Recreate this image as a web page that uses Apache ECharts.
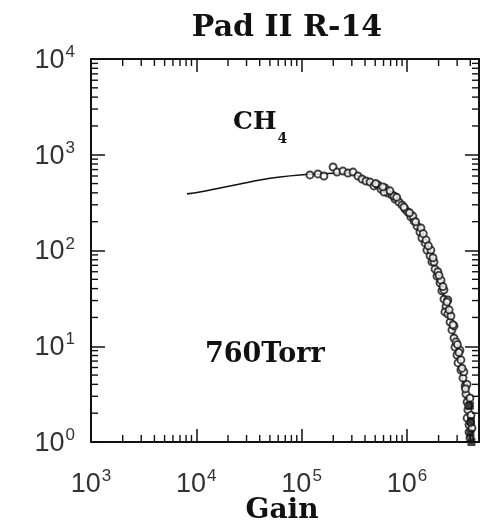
<!DOCTYPE html>
<html>
<head>
<meta charset="utf-8">
<script src="https://cdn.jsdelivr.net/npm/echarts@6/dist/echarts.min.js"></script>
<style>
  html, body { margin: 0; padding: 0; background: #fff; }
  #chart { width: 482px; height: 527px; }
</style>
</head>
<body>
<div id="chart"></div>
<script>
// Axis ranges (gain on x, value on y; both logarithmic)
const xMin = 1000, xMax = 4.84e6;
const yMin = 1, yMax = 1e4;

// Measured points: gain
const pointGain = [
  1.20e5, 1.43e5, 1.63e5, 1.99e5, 2.17e5, 2.47e5, 2.76e5, 3.08e5, 3.43e5, 3.75e5,
  4.09e5, 4.47e5, 4.87e5, 5.32e5, 5.68e5, 6.20e5, 6.61e5, 7.21e5, 7.71e5, 8.41e5,
  8.98e5, 9.59e5, 1.02e6, 1.09e6, 1.17e6, 1.25e6, 1.33e6, 1.39e6, 1.49e6, 1.55e6,
  1.66e6, 1.73e6, 1.85e6, 1.93e6, 2.06e6, 2.15e6, 2.25e6, 2.35e6, 2.30e6, 2.45e6,
  2.57e6, 2.68e6, 2.80e6, 2.86e6, 2.99e6, 3.06e6, 3.26e6, 3.41e6, 3.57e6, 3.64e6,
  3.73e6, 3.80e6, 3.73e6, 3.89e6, 3.89e6, 3.97e6,
  6.07e5, 7.54e5, 9.37e5, 1.14e6, 1.36e6, 1.52e6, 1.69e6, 1.81e6, 1.97e6, 2.11e6,
  2.25e6, 2.45e6, 2.62e6, 2.80e6, 2.93e6, 3.19e6, 3.26e6, 3.48e6, 3.73e6, 3.97e6,
  4.06e6, 4.15e6,
  5.05e5, 5.90e5, 6.90e5, 8.00e5, 1.06e6, 1.21e6, 1.43e6, 1.60e6, 1.77e6, 2.02e6,
  2.20e6, 2.40e6, 2.52e6, 2.74e6, 3.02e6, 3.12e6, 3.34e6, 3.60e6, 3.85e6, 4.02e6
];
// Measured points: value
const pointValue = [
  615, 630, 600, 745, 660, 676, 645, 660, 600, 558,
  532, 519, 472, 483, 439, 450, 398, 380, 345, 321,
  299, 271, 252, 224, 203, 180, 156, 135, 120, 101,
  88, 76, 64, 54, 46, 38, 31, 26, 22.8, 21.7,
  17.9, 14.8, 12.2, 9.8, 8.1, 6.7, 5.65, 4.66, 3.85, 3.17,
  2.62, 2.16, 1.78, 1.51, 1.27, 1.10,
  408, 371, 285, 229, 172, 129, 101, 76, 60, 49,
  38.7, 30.4, 20.7, 16.3, 11.1, 9.1, 7.2, 5.4, 4.0, 2.88,
  1.91, 1.40,
  500, 462, 420, 360, 248, 200, 150, 112, 84, 55,
  42, 29, 24, 16.8, 10.4, 8.6, 5.9, 3.6, 2.4, 1.6
];

// Solid-marker points near the lowest values
const solidGain = [3.97e6, 4.06e6, 4.02e6, 4.10e6];
const solidValue = [2.4, 1.65, 1.22, 1.0];

// Fitted curve
const curveGain = [
  8.17e3, 1.08e4, 1.68e4, 2.60e4, 4.03e4, 6.24e4, 9.66e4, 1.50e5, 2.32e5, 3.21e5,
  4.47e5, 6.20e5, 8.50e5, 1.12e6, 1.45e6, 1.81e6, 2.20e6, 2.62e6, 3.06e6, 3.41e6,
  3.73e6, 3.97e6
];
const curveValue = [
  390, 408, 450, 495, 545, 586, 615, 630, 645, 615,
  519, 428, 321, 224, 135, 72, 36, 17.9, 8.1, 4.2,
  2.16, 1.0
];

// Decade exponents used for labelled ticks
const xDecades = [3, 4, 5, 6];
const yDecades = [0, 1, 2, 3];
const minorMultipliers = [2, 3, 4, 5, 6, 7, 8, 9];

const xMinor = [];
xDecades.forEach(e => minorMultipliers.forEach(m => {
  const v = m * Math.pow(10, e);
  if (v < xMax) xMinor.push([v, yMin]);
}));
const yMinor = [];
yDecades.forEach(e => minorMultipliers.forEach(m => {
  yMinor.push([xMin, m * Math.pow(10, e)]);
}));

const zip = (a, b) => a.map((v, i) => [v, b[i]]);

const ink = '#111';
const labelFont = 'Liberation Sans';

function powLabel(v) {
  const e = Math.log10(v);
  const r = Math.round(e);
  if (Math.abs(e - r) > 1e-6) return '';
  return '{b|10}{s|' + r + '}';
}
const powRich = {
  b: { fontSize: 27, fontFamily: labelFont, color: '#333', lineHeight: 27, verticalAlign: 'bottom' },
  s: { fontSize: 17, fontFamily: labelFont, color: '#333', verticalAlign: 'top', padding: [0, 0, 13, 1] }
};

const tickStyle = { color: ink, width: 1.5 };
const lineStyle = { color: ink, width: 2 };

function minorTickX(params, api) {
  const cs = params.coordSys;
  const x = api.coord([api.value(0), yMin])[0];
  const yb = cs.y + cs.height, yt = cs.y;
  const st = { stroke: ink, lineWidth: 1.4 };
  return { type: 'group', children: [
    { type: 'line', shape: { x1: x, y1: yb, x2: x, y2: yb - 7 }, style: st },
    { type: 'line', shape: { x1: x, y1: yt, x2: x, y2: yt + 7 }, style: st }
  ] };
}
function minorTickY(params, api) {
  const cs = params.coordSys;
  const y = api.coord([xMin, api.value(1)])[1];
  const xl = cs.x, xr = cs.x + cs.width;
  const st = { stroke: ink, lineWidth: 1.4 };
  return { type: 'group', children: [
    { type: 'line', shape: { x1: xl, y1: y, x2: xl + 7, y2: y }, style: st },
    { type: 'line', shape: { x1: xr, y1: y, x2: xr - 7, y2: y }, style: st }
  ] };
}

const chart = echarts.init(document.getElementById('chart'), null, { renderer: 'canvas' });
chart.setOption({
  backgroundColor: '#fff',
  animation: false,
  grid: { left: 91, right: 3, top: 59, bottom: 85, containLabel: false },
  xAxis: [
    {
      type: 'log', logBase: 10, min: xMin, max: xMax, position: 'bottom',
      axisLine: { show: true, lineStyle: lineStyle },
      axisTick: { show: true, inside: true, length: 13, lineStyle: tickStyle },
      axisLabel: { show: true, margin: 26, formatter: powLabel, rich: powRich, showMaxLabel: false },
      splitLine: { show: false }
    },
    {
      type: 'log', logBase: 10, min: xMin, max: xMax, position: 'top',
      axisLine: { show: true, lineStyle: lineStyle },
      axisTick: { show: true, inside: true, length: 13, lineStyle: tickStyle },
      axisLabel: { show: false },
      splitLine: { show: false }
    }
  ],
  yAxis: [
    {
      type: 'log', logBase: 10, min: yMin, max: yMax, position: 'left',
      axisLine: { show: true, lineStyle: lineStyle },
      axisTick: { show: true, inside: true, length: 14, lineStyle: tickStyle },
      axisLabel: { show: true, margin: 16, formatter: powLabel, rich: powRich },
      splitLine: { show: false }
    },
    {
      type: 'log', logBase: 10, min: yMin, max: yMax, position: 'right',
      axisLine: { show: true, lineStyle: lineStyle },
      axisTick: { show: true, inside: true, length: 14, lineStyle: tickStyle },
      axisLabel: { show: false },
      splitLine: { show: false }
    }
  ],
  series: [
    {
      type: 'custom', name: 'xMinor', xAxisIndex: 0, yAxisIndex: 0,
      renderItem: minorTickX, data: xMinor, silent: true, clip: false, z: 5
    },
    {
      type: 'custom', name: 'yMinor', xAxisIndex: 0, yAxisIndex: 0,
      renderItem: minorTickY, data: yMinor, silent: true, clip: false, z: 5
    },
    {
      type: 'line', name: 'curve', xAxisIndex: 0, yAxisIndex: 0,
      data: zip(curveGain, curveValue), smooth: 0.4, showSymbol: false,
      lineStyle: { color: ink, width: 1.6 }, z: 3
    },
    {
      type: 'scatter', name: 'points', xAxisIndex: 0, yAxisIndex: 0,
      data: zip(pointGain, pointValue), symbol: 'circle', symbolSize: 7,
      itemStyle: { color: '#fff', borderColor: ink, borderWidth: 1.9 }, z: 4
    },
    {
      type: 'scatter', name: 'solid', xAxisIndex: 0, yAxisIndex: 0,
      data: zip(solidGain, solidValue), symbol: 'rect', symbolSize: 8,
      itemStyle: { color: ink }, clip: false, z: 4
    }
  ],
  graphic: [
    { type: 'text', x: 287, y: 13,
      style: { text: 'Pad II R-14', font: 'bold 30px "DejaVu Serif"', fill: ink, textAlign: 'center' } },
    { type: 'text', x: 233, y: 110,
      style: { text: '{m|CH}{sub|4}', rich: {
        m: { font: 'bold 25px "DejaVu Serif"', fill: ink, verticalAlign: 'top' },
        sub: { font: 'bold 14px "DejaVu Serif"', fill: ink, verticalAlign: 'bottom', padding: [22, 0, 0, 1] }
      } } },
    { type: 'text', x: 205, y: 341,
      style: { text: '760Torr', font: 'bold 27px "DejaVu Serif"', fill: ink } },
    { type: 'text', x: 282, y: 497,
      style: { text: 'Gain', font: 'bold 28px "DejaVu Serif"', fill: ink, textAlign: 'center' } }
  ]
});
</script>
</body>
</html>
